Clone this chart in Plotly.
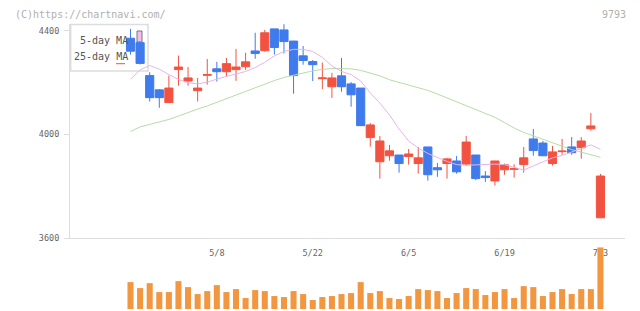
import plotly.graph_objects as go

W, H = 640, 311
FIG_H = 316  # the page is captured slightly taller and scaled to 311

dates = ["4/20","4/21","4/24","4/25","4/26","4/27","4/28","5/1","5/2","5/8",
         "5/9","5/10","5/11","5/12","5/15","5/16","5/17","5/18","5/19","5/22",
         "5/23","5/24","5/25","5/26","5/29","5/30","5/31","6/1","6/2","6/5",
         "6/6","6/7","6/8","6/9","6/12","6/13","6/14","6/15","6/16","6/19",
         "6/20","6/21","6/22","6/23","6/26","6/27","6/28","6/29","6/30","7/3"]

opens  = [4371,4354,4227,4172,4123,4250,4206,4169,4228,4253,
          4242,4250,4261,4322,4323,4407,4403,4360,4303,4281,
          4215,4184,4226,4195,4179,3988,3895,3918,3921,3915,
          3888,3952,3872,3888,3898,3886,3921,3840,3821,3864,
          3866,3884,3983,3967,3888,3934,3952,3949,4022,3679]
highs  = [4407,4357,4240,4175,4227,4304,4260,4218,4291,4280,
          4295,4330,4315,4392,4403,4407,4425,4361,4341,4287,
          4277,4238,4295,4202,4179,4044,3994,3960,3921,3944,
          3952,3952,3890,3910,3917,3995,3921,3859,3898,3888,
          3885,3952,4021,3975,3956,3983,3990,3990,4083,3848]
lows   = [4308,4270,4127,4103,4121,4188,4188,4127,4192,4204,
          4223,4207,4249,4292,4319,4308,4312,4157,4269,4206,
          4175,4141,4165,4107,4034,3953,3830,3899,3853,3884,
          3849,3822,3837,3830,3849,3879,3824,3817,3803,3845,
          3834,3853,3918,3918,3880,3922,3922,3907,4015,3679]
closes = [4321,4274,4142,4142,4179,4260,4218,4179,4231,4242,
          4273,4260,4280,4312,4392,4335,4358,4227,4285,4269,
          4218,4218,4184,4153,4034,4037,3975,3937,3888,3925,
          3910,3845,3864,3906,3856,3971,3830,3834,3898,3883,
          3868,3910,3938,3918,3933,3936,3930,3975,4033,3840]

ma5  = [4213,4249,4266,4252,4231,4212,4199,4195,4202,4214,
        4224,4233,4243,4258,4278,4303,4320,4328,4328,4320,
        4297,4264,4243,4231,4206,4160,4121,4075,4021,3975,
        3948,3927,3911,3896,3884,3881,3883,3885,3886,3884,
        3875,3863,3879,3896,3910,3919,3931,3946,3960,3943]
ma25 = [4012,4029,4039,4048,4058,4071,4086,4098,4110,4123,
        4139,4152,4166,4181,4195,4208,4220,4229,4238,4245,
        4251,4254,4254,4253,4247,4237,4226,4211,4201,4193,
        4183,4170,4156,4141,4125,4110,4096,4083,4066,4046,
        4025,4008,3994,3981,3967,3955,3942,3931,3921,3912]

volumes = [27,21,26,17,17,28,22,15,18,24,
           17,20,11,19,18,13,12,18,15,9,
           12,13,15,16,27,16,18,11,10,13,
           20,19,18,11,16,21,20,14,17,20,
           11,23,22,13,17,20,15,20,20,62]
volumes = [v * 1000 for v in volumes]

x_ticks = ["5/8","5/22","6/5","6/19","7/3"]
y_ticks = [3600, 4000, 4400]

RED = "#f25340"
BLUE = "#3f7bec"
ORANGE = "#f2963f"
AXIS = "#dddddd"
TXT = "#666666"
MONO = "DejaVu Sans Mono"

def px(x):
    return x / W

def py(y):
    return 1 - y / H

x_range = [-6.31, 51.56]

fig = go.Figure()
fig.add_trace(go.Scatter(x=dates, y=ma25, mode="lines", line=dict(color="#b6dca8", width=1),
                         xaxis="x", yaxis="y", hoverinfo="skip"))
fig.add_trace(go.Scatter(x=dates, y=ma5, mode="lines", line=dict(color="#e8b4ea", width=1),
                         xaxis="x", yaxis="y", hoverinfo="skip"))
fig.add_trace(go.Candlestick(
    x=dates, open=opens, high=highs, low=lows, close=closes,
    increasing=dict(line=dict(color=RED, width=1), fillcolor=RED),
    decreasing=dict(line=dict(color=BLUE, width=1), fillcolor=BLUE),
    whiskerwidth=0, xaxis="x", yaxis="y"))
fig.add_trace(go.Bar(x=dates, y=volumes, marker=dict(color=ORANGE, line=dict(width=0)),
                     xaxis="x2", yaxis="y2", hoverinfo="skip"))

fig.update_layout(
    width=W, height=FIG_H,
    margin=dict(l=0, r=0, t=0, b=0),
    paper_bgcolor="white", plot_bgcolor="rgba(0,0,0,0)",
    showlegend=False,
    boxgap=0.15, boxgroupgap=0,
    bargap=0.37,
    font=dict(family=MONO, color=TXT, size=9),
    xaxis=dict(domain=[px(70), px(625)], type="category", range=x_range,
               anchor="y", rangeslider=dict(visible=False),
               showgrid=False, zeroline=False, showline=True, linecolor=AXIS, linewidth=1,
               tickmode="array", tickvals=x_ticks, ticktext=x_ticks, ticks="",
               tickfont=dict(family=MONO, size=8.5, color=TXT), ticklabelstandoff=6),
    xaxis2=dict(domain=[px(70), px(625)], type="category", range=x_range, anchor="y2",
                showgrid=False, zeroline=False, showline=False, showticklabels=False, ticks=""),
    xaxis3=dict(overlaying="x", anchor="y", range=[0, 10], tickmode="array",
                tickvals=list(range(11)), ticks="outside", ticklen=5, tickcolor=AXIS,
                showticklabels=False, showgrid=False, zeroline=False, showline=False),
    yaxis=dict(domain=[py(238.3), py(24)], range=[3600, 4425.8], anchor="x",
               showgrid=False, zeroline=False, showline=True, linecolor=AXIS, linewidth=1,
               tickmode="array", tickvals=y_ticks, ticks="outside", ticklen=5, tickcolor=AXIS,
               tickfont=dict(family=MONO, size=8.5, color=TXT), ticklabelstandoff=3),
    yaxis2=dict(domain=[py(309), py(247.3)], range=[0, 62000], anchor="x2",
                showgrid=False, zeroline=False, showline=False, showticklabels=False, ticks=""),
    shapes=[
        dict(type="rect", xref="paper", yref="paper", x0=px(70.7), x1=px(148), y0=py(71), y1=py(24.5),
             line=dict(color=AXIS, width=1.5), fillcolor="white", layer="below"),
        dict(type="rect", xref="paper", yref="paper", x0=px(137), x1=px(142), y0=py(42), y1=py(31),
             line=dict(color="#777777", width=1), fillcolor="#f0c0f0", layer="below"),
        dict(type="line", xref="paper", yref="paper", x0=px(116), x1=px(125), y0=py(63.7), y1=py(63.7),
             line=dict(color=RED, width=1), layer="below"),
    ],
    annotations=[
        dict(text="(C)https://chartnavi.com/", xref="paper", yref="paper", x=px(13), y=py(15),
             xanchor="left", yanchor="middle", showarrow=False,
             font=dict(family=MONO, size=10, color="#b0b0b0")),
        dict(text="9793", xref="paper", yref="paper", x=px(628), y=py(15),
             xanchor="right", yanchor="middle", showarrow=False,
             font=dict(family=MONO, size=10, color="#b0b0b0")),
        dict(text="5-day MA", xref="paper", yref="paper", x=px(130), y=py(40),
             xanchor="right", yanchor="middle", showarrow=False,
             font=dict(family=MONO, size=10, color="#555555")),
        dict(text="25-day MA", xref="paper", yref="paper", x=px(130), y=py(57),
             xanchor="right", yanchor="middle", showarrow=False,
             font=dict(family=MONO, size=10, color="#555555")),
    ],
)

fig.write_html("out.html")
